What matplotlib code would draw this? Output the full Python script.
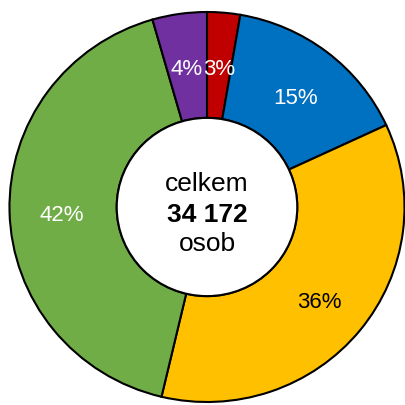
import numpy as np
import matplotlib.pyplot as plt

plt.rcParams['font.family'] = ['Liberation Sans', 'DejaVu Sans']

# share of persons per group (%), clockwise from top
shares = [2.7, 15.4, 35.6, 41.85, 4.45]
labels = ['3%', '15%', '36%', '42%', '4%']
colors = ['#C00000', '#0070C0', '#FFC000', '#70AD47', '#7030A0']
label_colors = ['white', 'white', 'black', 'white', 'white']
total_text = ['celkem', '34 172', 'osob']

fig = plt.figure(figsize=(4.05, 4.06), dpi=100)
ax = fig.add_axes([0.0, 0.0, 1.0, 1.0])

hole_ratio = 0.457
wedges, texts = ax.pie(shares, colors=colors, startangle=90, counterclock=False,
                       radius=1.0,
                       wedgeprops=dict(width=1 - hole_ratio, edgecolor='black', linewidth=1.5))

# percentage labels in the middle of the ring
start = 90.0
for val, lab, col in zip(shares, labels, label_colors):
    mid = np.deg2rad(start - val * 3.6 / 2)
    r = 0.735
    ax.text(r * np.cos(mid), r * np.sin(mid) - 0.02, lab, ha='center', va='center',
            fontsize=16, color=col)
    start -= val * 3.6

# white hole with black rim
hole = plt.Circle((0, 0), hole_ratio, facecolor='white', edgecolor='black', linewidth=1.5)
ax.add_patch(hole)

ax.text(0, 0.089, total_text[0], ha='center', va='baseline', fontsize=19)
ax.text(0, -0.070, total_text[1], ha='center', va='baseline', fontsize=19, fontweight='bold')
ax.text(0, -0.219, total_text[2], ha='center', va='baseline', fontsize=19)

# chart is slightly wider than tall in the original
ax.set_xlim(-1.048, 1.0025)
ax.set_ylim(-1.0154, 1.0667)
ax.set_aspect('auto')
ax.axis('off')

fig.savefig('out.png', dpi=100)
